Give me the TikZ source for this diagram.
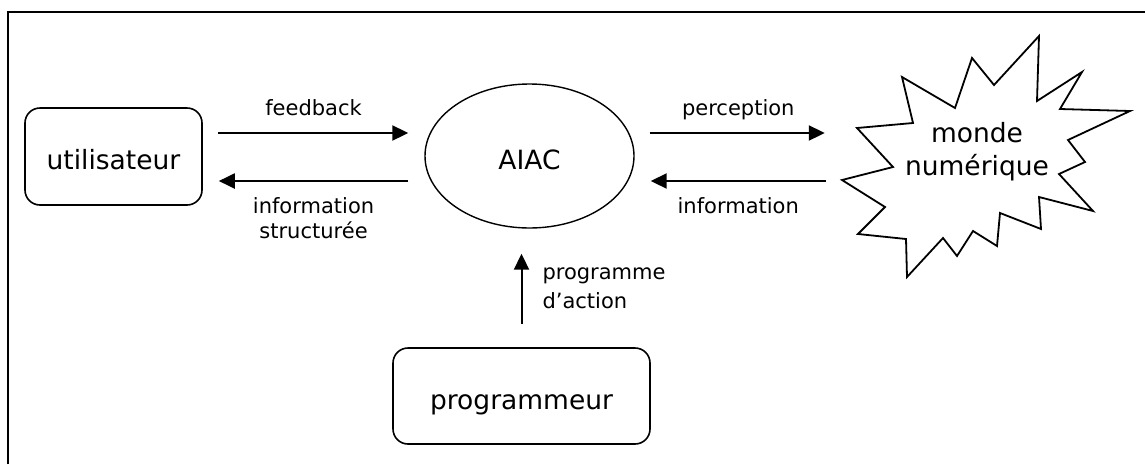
\documentclass[tikz,border=0pt]{standalone}
\usepackage{fontspec}
\setmainfont{DejaVu Sans}
\usetikzlibrary{arrows.meta,shapes.geometric}
\tikzset{
  box/.style={draw, line width=1.6pt, rounded corners=15pt, inner sep=2pt,
    font=\fontsize{26.5}{30}\selectfont, text height=26pt, text depth=0pt},
  bubble/.style={draw, ellipse, line width=1.4pt, inner sep=2pt,
    font=\fontsize{26.5}{30}\selectfont, text height=26pt, text depth=0pt},
  arr/.style={line width=2pt, -{Triangle[length=16pt,width=15pt]}},
  lbl/.style={inner sep=0pt, font=\fontsize{21}{25}\selectfont, text depth=0pt}
}

\begin{document}
\begin{tikzpicture}[x=1pt, y=-1pt]
		%%%%% START %%%%%
		\useasboundingbox (0,0) rectangle (1145,464);
		\draw[line width=2pt] (8,464) -- (8,12) -- (1145,12);
		
		\node[box, minimum width=177pt, minimum height=97pt] (user) at (113.5,156.5) {utilisateur};
		\node[bubble, minimum width=209pt, minimum height=144pt] (aiac) at (529.5,156) {AIAC};
		\node[box, minimum width=257pt, minimum height=96pt] (prog) at (521.5,396) {programmeur};
		
		% the starburst
		\draw[line width=1.8pt, line join=miter] (1039,36) -- (1037,101) -- (1082,72) -- (1060,109)
		  -- (1130,111) -- (1068,140) -- (1085,162) -- (1059,174) -- (1093,211) -- (1039,197)
		  -- (1041,229) -- (1000,213) -- (997,246) -- (973,231) -- (957,256) -- (943,238)
		  -- (907,277) -- (906,239) -- (858,234) -- (885,207) -- (842,180) -- (893,167)
		  -- (857,128) -- (913,123) -- (902,77) -- (955,108) -- (972,58) -- (994,85) -- cycle;
		\node[minimum width=270pt, align=center, inner sep=0pt, font=\fontsize{26.5}{33}\selectfont] (world) at (977,152) {monde\\numérique};
		
		\draw[arr, shorten <=15pt, shorten >=16pt] (user.east |- 0,133) -- node[lbl, above=17pt] {feedback} (aiac.west |- 0,133);
		\draw[arr, shorten <=16pt, shorten >=16pt] (aiac.west |- 0,181) -- node[lbl, below=16pt, align=center] {information\\structurée} (user.east |- 0,181);
		\draw[arr, shorten <=15pt, shorten >=17pt] (aiac.east |- 0,133) -- node[lbl, above=17pt] {perception} (world.west |- 0,133);
		\draw[arr, shorten <=16pt, shorten >=16pt] (world.west |- 0,181) -- node[lbl, below=16pt] {information} (aiac.east |- 0,181);
		\draw[arr, shorten <=23pt, shorten >=25pt] (prog.north) -- node[lbl, right=20pt, align=left, font=\fontsize{21}{29}\selectfont] {programme\\d’action} (prog.north |- aiac.south);
		%%%%% END %%%%%
\end{tikzpicture}
\end{document}
